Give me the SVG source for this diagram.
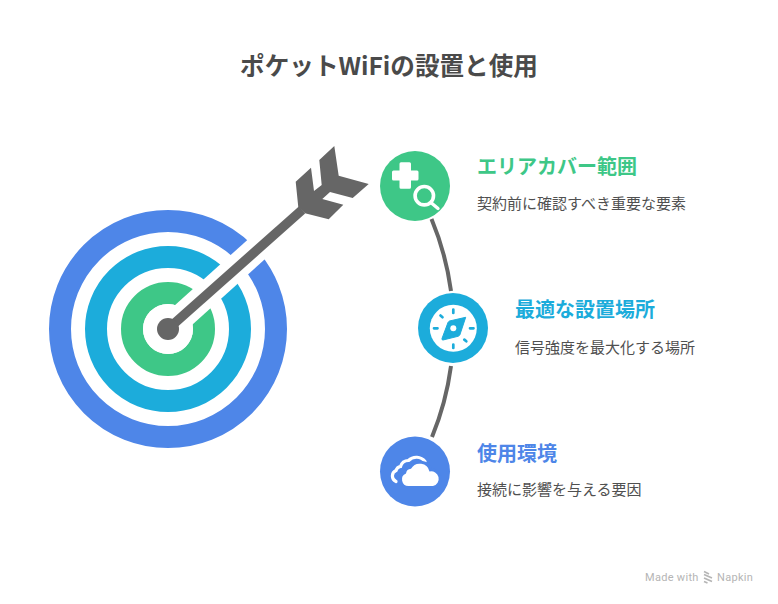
<svg xmlns="http://www.w3.org/2000/svg" width="778" height="604" viewBox="0 0 778 604">
<style>
text{font-family:"Noto Sans CJK JP","Noto Sans",sans-serif}
.t{font-size:24.6px;font-weight:700;fill:#4a4a4a}
.h{font-size:20px;font-weight:700}
.s{font-size:15px;fill:#505050}
.ring{fill:none;stroke-width:22}
.conn{fill:none;stroke:#666;stroke-width:4}
.w{fill:#fff}
.g{fill:#3ec787}.c{fill:#1cacdb}.b{fill:#4e86e8}
.tick{stroke:#1cacdb;stroke-width:2.700;stroke-linecap:round;fill:none}
.wm{font-size:11px;fill:#b5b5b5;letter-spacing:.3px;font-family:Roboto,sans-serif}
</style>
<rect width="778" height="604" fill="#fff"/>
<text class="t" x="389" y="74.500" text-anchor="middle">ポケットWiFiの設置と使用</text>
<g id="target">
<circle class="ring" cx="168" cy="329" r="108" stroke="#4e86e8"/>
<circle class="ring" cx="168" cy="329" r="72" stroke="#1cacdb"/>
<circle class="ring" cx="168" cy="329" r="36" stroke="#3ec787"/>
<path d="M168 329L300 210" stroke="#fff" stroke-width="26" fill="none"/>
<circle cx="168" cy="329" r="25" fill="#fff"/>
</g>
<g id="arrow" fill="#666">
<path d="M168 329L302 210" stroke="#666" stroke-width="9.500" fill="none"/>
<circle cx="168" cy="329" r="11"/>
<polygon points="334.300,146 338.700,175.700 368.700,184 352.700,198 330,192 322.300,199 343.300,204.700 328.700,219.300 305,213.300 298.300,207.300 295.700,181.700 311,167.700 314,191 321.700,185 319.300,160"/>
</g>
<g id="connectors">
<path class="conn" d="M431.500 219A286 286 0 0 1 451 291"/>
<path class="conn" d="M451 366A286 286 0 0 1 432 437"/>
</g>
<g id="node-coverage">
<circle class="g" cx="415" cy="186" r="35"/>
<path class="w" d="M401 162.300h8.500a1.500 1.500 0 0 1 1.500 1.500v6.700h6a1.500 1.500 0 0 1 1.500 1.500v7a1.500 1.500 0 0 1-1.500 1.500h-6v6.700a1.500 1.500 0 0 1-1.500 1.500h-8.500a1.500 1.500 0 0 1-1.500-1.500v-6.700h-6a1.500 1.500 0 0 1-1.500-1.500v-7a1.500 1.500 0 0 1 1.500-1.500h6v-6.700a1.500 1.500 0 0 1 1.500-1.500z"/>
<circle cx="424.300" cy="195.700" r="13" fill="#3ec787"/>
<circle cx="424.300" cy="195.700" r="9.200" fill="none" stroke="#fff" stroke-width="3.600"/>
<path d="M432 203.500L438 208.500" stroke="#fff" stroke-width="3.400" stroke-linecap="round"/>
<text class="h" x="477" y="174" fill="#3ec787">エリアカバー範囲</text>
<text class="s" x="477" y="209">契約前に確認すべき重要な要素</text>
</g>
<g id="node-placement">
<circle class="c" cx="453" cy="328" r="35"/>
<circle class="w" cx="453.300" cy="328.300" r="23.500"/>
<path class="tick" d="M453.300 309.500v3.500M453.300 344.500v3.500M434 328.300h3.500M470 328.300h3.500M440.500 315.500l2 1.700M464.300 339.600l2 1.700"/>
<path class="c" d="M465.700 317.300L459.800 335Q459 336 458 336.300L443 340Q441.500 340 442 338.500L448 322.500Q448.500 321.500 449.500 321z" stroke="#1cacdb" stroke-width="1" stroke-linejoin="round"/>
<circle class="w" cx="453.300" cy="328.300" r="3"/>
<text class="h" x="515" y="317" fill="#1cacdb">最適な設置場所</text>
<text class="s" x="515" y="352.500">信号強度を最大化する場所</text>
</g>
<g id="node-environment">
<circle class="b" cx="415" cy="471.500" r="35"/>
<path d="M396 481.500A6 6 0 0 1 396 470.500Q397 467 400.500 466.500A8.500 8.500 0 0 1 408.500 460.500A11 11 0 0 1 425 461.500" fill="none" stroke="#fff" stroke-width="3.200" stroke-linecap="round"/>
<path d="M408.500 486A6.500 6.500 0 0 1 406 473.500A5.500 5.500 0 0 1 411 468.800A10 10 0 0 1 429.500 471.500A7.300 7.300 0 0 1 433 486Z" fill="#fff" stroke="#4e86e8" stroke-width="6" paint-order="stroke"/>
<text class="h" x="477" y="461" fill="#4e86e8">使用環境</text>
<text class="s" x="477" y="495">接続に影響を与える要因</text>
</g>
<g id="watermark">
<text class="wm" x="645" y="581">Made with</text>
<path d="M704 571.500l5 2.500M704 574.500l8 3.500M704 578l8 3.500M704 581.500l3.500 1.500" stroke="#b5b5b5" stroke-width="1.700" fill="none"/>
<text class="wm" x="717" y="581">Napkin</text>
</g>
</svg>
